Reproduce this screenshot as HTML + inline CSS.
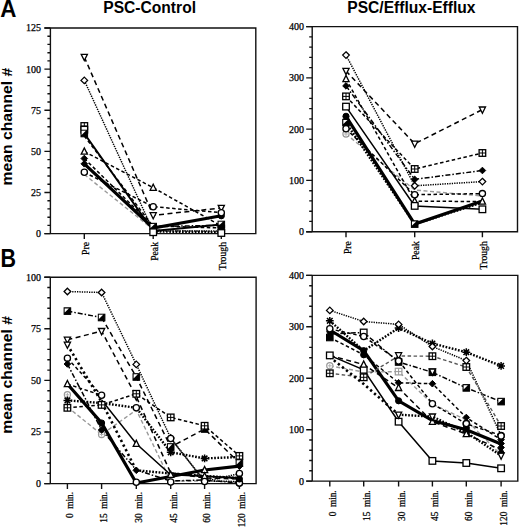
<!DOCTYPE html>
<html><head><meta charset="utf-8"><style>
html,body{margin:0;padding:0;background:#fff;width:520px;height:527px;overflow:hidden}
svg{display:block}
.yl{font-family:"Liberation Serif",serif;font-size:10px;text-anchor:end;fill:#000;stroke:#000;stroke-width:0.25px}
.xl{font-family:"Liberation Serif",serif;text-anchor:end;fill:#000;stroke:#000;stroke-width:0.25px;word-spacing:2.3px}
.t{font-family:"Liberation Sans",sans-serif;font-weight:bold;fill:#000}
.mo{fill:#fff;stroke:#000;stroke-width:1.3}
.mf{fill:#000;stroke:#000;stroke-width:1}
</style></head><body>
<svg width="520" height="527" viewBox="0 0 520 527">
<text class="t" transform="translate(0.3,17.1) scale(1.0,1.07)" font-size="22.4">A</text>
<text class="t" transform="translate(0.4,266.8) scale(0.95,1.16)" font-size="22.6">B</text>
<text class="t" x="103.3" y="13" font-size="15.6">PSC-Control</text>
<text class="t" x="347.3" y="12.6" font-size="15.6">PSC/Efflux-Efflux</text>
<text class="t" font-size="15.7" transform="translate(12.1,185.4) rotate(-90) scale(1,0.96)">mean channel #</text>
<text class="t" font-size="15.7" transform="translate(12.1,433.8) rotate(-90) scale(1,0.96)">mean channel #</text>
<path d="M44.4,28.0H255.8V233.6H44.4M50.4,28.0V233.6" stroke="#111" stroke-width="1.4" fill="none"/>
<text x="40.9" y="237.0" class="yl">0</text>
<text x="40.9" y="195.9" class="yl">25</text>
<text x="40.9" y="154.8" class="yl">50</text>
<text x="40.9" y="113.6" class="yl">75</text>
<text x="40.9" y="72.5" class="yl">100</text>
<text x="40.9" y="31.4" class="yl">125</text>
<path d="M44.4,233.6H50.4M47.4,225.4H50.4M47.4,217.2H50.4M47.4,208.9H50.4M47.4,200.7H50.4M44.4,192.5H50.4M47.4,184.3H50.4M47.4,176.0H50.4M47.4,167.8H50.4M47.4,159.6H50.4M44.4,151.4H50.4M47.4,143.1H50.4M47.4,134.9H50.4M47.4,126.7H50.4M47.4,118.5H50.4M44.4,110.2H50.4M47.4,102.0H50.4M47.4,93.8H50.4M47.4,85.6H50.4M47.4,77.3H50.4M44.4,69.1H50.4M47.4,60.9H50.4M47.4,52.7H50.4M47.4,44.4H50.4M47.4,36.2H50.4M44.4,28.0H50.4M84.3,233.6V239.1M153.2,233.6V239.1M221.3,233.6V239.1" stroke="#111" stroke-width="1.4" fill="none"/>
<text class="xl" font-size="9.7" transform="translate(88.9,242.0) rotate(-90)">Pre</text>
<text class="xl" font-size="9.7" transform="translate(157.8,242.0) rotate(-90)">Peak</text>
<text class="xl" font-size="9.7" transform="translate(225.9,242.0) rotate(-90)">Trough</text>
<path d="M84.3,174.5L153.2,229.5L221.3,232.0" fill="none" stroke="#999" stroke-width="1.4" stroke-dasharray="4 2.5"/>
<path d="M84.3,57.0L153.2,215.3L221.3,208.0" fill="none" stroke="#000" stroke-width="1.5" stroke-dasharray="5 3.5"/>
<path d="M84.3,80.4L153.2,231.0L221.3,231.0" fill="none" stroke="#000" stroke-width="1.5" stroke-dasharray="1.3 1.1"/>
<path d="M84.3,133.5L153.2,231.0L221.3,224.5" fill="none" stroke="#000" stroke-width="2.0"/>
<path d="M84.3,136.0L153.2,226.6" fill="none" stroke="#000" stroke-width="1.5" stroke-dasharray="3.5 2.5"/>
<path d="M153.2,226.6L221.3,225.3" fill="none" stroke="#000" stroke-width="1.5" stroke-dasharray="5 2 1.5 2"/>
<path d="M153.2,231.5L221.3,232.2" fill="none" stroke="#000" stroke-width="2.4" stroke-dasharray="1.7 1.5"/>
<path d="M84.3,151.5L153.2,187.7L221.3,226.0" fill="none" stroke="#000" stroke-width="1.5" stroke-dasharray="3.5 2.5"/>
<path d="M84.3,158.5L153.2,226.0L221.3,228.0" fill="none" stroke="#000" stroke-width="1.5" stroke-dasharray="3.5 2.5"/>
<path d="M84.3,163.8L153.2,228.0L221.3,215.8" fill="none" stroke="#000" stroke-width="3.2"/>
<path d="M84.3,172.3L153.2,206.7L221.3,212.7" fill="none" stroke="#000" stroke-width="1.5" stroke-dasharray="3.5 2.5"/>
<path d="M81.2,54.4H87.4L84.3,60.6Z" class="mo"/>
<path d="M150.1,212.7H156.3L153.2,218.9Z" class="mo"/>
<path d="M218.2,205.4H224.4L221.3,211.6Z" class="mo"/>
<path d="M84.3,77.1L87.6,80.4L84.3,83.7L81.0,80.4Z" class="mo"/>
<path d="M81.2,154.1H87.4L84.3,147.9Z" class="mo"/>
<path d="M150.1,190.3H156.3L153.2,184.1Z" class="mo"/>
<path d="M84.3,155.2L87.6,158.5L84.3,161.8L81.0,158.5Z" class="mf"/>
<path d="M84.3,160.5L87.6,163.8L84.3,167.1L81.0,163.8Z" class="mf"/>
<circle cx="221.3" cy="215.8" r="3.1" class="mf"/>
<circle cx="84.3" cy="172.3" r="3.1" class="mo"/>
<circle cx="153.2" cy="206.7" r="3.1" class="mo"/>
<circle cx="221.3" cy="212.7" r="3.1" class="mo"/>
<rect x="81.0" y="122.7" width="6.6" height="6.6" class="mo"/><path d="M84.3,122.7V129.3M81.0,126.0H87.6" stroke="#000" stroke-width="1"/>
<rect x="81.0" y="126.4" width="6.6" height="6.6" class="mo"/>
<rect x="81.0" y="130.2" width="6.6" height="6.6" class="mf" stroke-width="1.3"/><path d="M81.6,130.8H85.8L81.6,135.0Z" fill="#fff"/>
<rect x="149.9" y="223.3" width="6.6" height="6.6" class="mf" stroke-width="1.3"/><path d="M150.5,223.9H154.7L150.5,228.1Z" fill="#fff"/>
<rect x="149.9" y="228.9" width="6.6" height="6.6" class="mo"/>
<rect x="218.0" y="221.2" width="6.6" height="6.6" class="mf" stroke-width="1.3"/><path d="M218.6,221.8H222.8L218.6,226.0Z" fill="#fff"/>
<rect x="218.0" y="225.2" width="6.6" height="6.6" class="mf"/>
<rect x="218.0" y="229.7" width="6.6" height="6.6" class="mo"/>
<path d="M306.2,26.6H517.5V231.7H306.2M312.2,26.6V231.7" stroke="#111" stroke-width="1.4" fill="none"/>
<text x="304.0" y="235.1" class="yl">0</text>
<text x="304.0" y="183.8" class="yl">100</text>
<text x="304.0" y="132.5" class="yl">200</text>
<text x="304.0" y="81.3" class="yl">300</text>
<text x="304.0" y="30.0" class="yl">400</text>
<path d="M306.2,231.7H312.2M309.2,221.4H312.2M309.2,211.2H312.2M309.2,200.9H312.2M309.2,190.7H312.2M306.2,180.4H312.2M309.2,170.2H312.2M309.2,159.9H312.2M309.2,149.7H312.2M309.2,139.4H312.2M306.2,129.1H312.2M309.2,118.9H312.2M309.2,108.6H312.2M309.2,98.4H312.2M309.2,88.1H312.2M306.2,77.9H312.2M309.2,67.6H312.2M309.2,57.4H312.2M309.2,47.1H312.2M309.2,36.9H312.2M306.2,26.6H312.2M346.0,231.7V237.2M414.7,231.7V237.2M482.4,231.7V237.2" stroke="#111" stroke-width="1.4" fill="none"/>
<text class="xl" font-size="9.7" transform="translate(350.6,241.2) rotate(-90)">Pre</text>
<text class="xl" font-size="9.7" transform="translate(419.3,241.2) rotate(-90)">Peak</text>
<text class="xl" font-size="9.7" transform="translate(487.0,241.2) rotate(-90)">Trough</text>
<path d="M346.0,134.0L414.7,190.0L482.4,196.0" fill="none" stroke="#999" stroke-width="1.4" stroke-dasharray="4 2.5"/>
<path d="M346.0,55.1L414.7,185.8L482.4,181.6" fill="none" stroke="#000" stroke-width="1.5" stroke-dasharray="1.3 1.1"/>
<path d="M346.0,71.0L414.7,143.8L482.4,109.6" fill="none" stroke="#000" stroke-width="1.5" stroke-dasharray="5 3.5"/>
<path d="M346.0,79.1L414.7,201.2L482.4,201.5" fill="none" stroke="#000" stroke-width="1.5" stroke-dasharray="3.5 2.5"/>
<path d="M346.0,85.9L414.7,179.4L482.4,170.5" fill="none" stroke="#000" stroke-width="1.5" stroke-dasharray="5 2 1.5 2"/>
<path d="M346.0,96.4L414.7,169.0L482.4,153.0" fill="none" stroke="#000" stroke-width="1.5" stroke-dasharray="3.5 2.5"/>
<path d="M346.0,106.6L414.7,205.9L482.4,209.3" fill="none" stroke="#000" stroke-width="1.5"/>
<path d="M346.0,116.3L414.7,224.1L482.4,201.0" fill="none" stroke="#000" stroke-width="3.2"/>
<path d="M346.0,122.6L414.7,224.1L482.4,202.5" fill="none" stroke="#000" stroke-width="2.4" stroke-dasharray="1.7 1.5"/>
<path d="M346.0,128.8L414.7,194.7L482.4,193.6" fill="none" stroke="#000" stroke-width="1.5" stroke-dasharray="3.5 2.5"/>
<circle cx="346.0" cy="134.0" r="3.1" fill="#fff" stroke="#999" stroke-width="1.2"/><path d="M344.0,134.0H348.0M346.0,132.0V136.0" stroke="#aaa" stroke-width="0.9"/>
<path d="M346.0,51.8L349.3,55.1L346.0,58.4L342.7,55.1Z" class="mo"/>
<path d="M414.7,182.5L418.0,185.8L414.7,189.1L411.4,185.8Z" class="mo"/>
<path d="M482.4,178.3L485.7,181.6L482.4,184.9L479.1,181.6Z" class="mo"/>
<path d="M342.9,68.4H349.1L346.0,74.6Z" class="mo"/>
<path d="M411.6,141.2H417.8L414.7,147.4Z" class="mo"/>
<path d="M479.3,107.0H485.5L482.4,113.2Z" class="mo"/>
<path d="M342.9,81.7H349.1L346.0,75.5Z" class="mo"/>
<path d="M411.6,203.8H417.8L414.7,197.6Z" class="mo"/>
<path d="M479.3,204.1H485.5L482.4,197.9Z" class="mo"/>
<path d="M346.0,82.6L349.3,85.9L346.0,89.2L342.7,85.9Z" class="mf"/>
<path d="M414.7,176.1L418.0,179.4L414.7,182.7L411.4,179.4Z" class="mf"/>
<path d="M482.4,167.2L485.7,170.5L482.4,173.8L479.1,170.5Z" class="mf"/>
<rect x="342.7" y="93.1" width="6.6" height="6.6" class="mo"/><path d="M346.0,93.1V99.7M342.7,96.4H349.3" stroke="#000" stroke-width="1"/>
<rect x="411.4" y="165.7" width="6.6" height="6.6" class="mo"/><path d="M414.7,165.7V172.3M411.4,169.0H418.0" stroke="#000" stroke-width="1"/>
<rect x="479.1" y="149.7" width="6.6" height="6.6" class="mo"/><path d="M482.4,149.7V156.3M479.1,153.0H485.7" stroke="#000" stroke-width="1"/>
<rect x="342.7" y="103.3" width="6.6" height="6.6" class="mo"/>
<rect x="411.4" y="202.6" width="6.6" height="6.6" class="mo"/>
<rect x="479.1" y="206.0" width="6.6" height="6.6" class="mo"/>
<circle cx="346.0" cy="116.3" r="3.1" class="mf"/>
<rect x="342.7" y="119.3" width="6.6" height="6.6" class="mf" stroke-width="1.3"/><path d="M343.3,119.9H347.5L343.3,124.1Z" fill="#fff"/>
<rect x="411.4" y="220.8" width="6.6" height="6.6" class="mf" stroke-width="1.3"/><path d="M412.0,221.4H416.2L412.0,225.6Z" fill="#fff"/>
<circle cx="346.0" cy="128.8" r="3.1" class="mo"/>
<circle cx="414.7" cy="194.7" r="3.1" class="mo"/>
<circle cx="482.4" cy="193.6" r="3.1" class="mo"/>
<path d="M44.3,277.2H256.1V483.6H44.3M50.3,277.2V483.6" stroke="#111" stroke-width="1.4" fill="none"/>
<text x="40.9" y="487.0" class="yl">0</text>
<text x="40.9" y="435.4" class="yl">25</text>
<text x="40.9" y="383.8" class="yl">50</text>
<text x="40.9" y="332.2" class="yl">75</text>
<text x="40.9" y="280.6" class="yl">100</text>
<path d="M44.3,483.6H50.3M47.3,473.3H50.3M47.3,463.0H50.3M47.3,452.6H50.3M47.3,442.3H50.3M44.3,432.0H50.3M47.3,421.7H50.3M47.3,411.4H50.3M47.3,401.0H50.3M47.3,390.7H50.3M44.3,380.4H50.3M47.3,370.1H50.3M47.3,359.8H50.3M47.3,349.4H50.3M47.3,339.1H50.3M44.3,328.8H50.3M47.3,318.5H50.3M47.3,308.2H50.3M47.3,297.8H50.3M47.3,287.5H50.3M44.3,277.2H50.3M67.4,483.6V489.1M101.6,483.6V489.1M136.3,483.6V489.1M170.7,483.6V489.1M204.6,483.6V489.1M239.4,483.6V489.1" stroke="#111" stroke-width="1.4" fill="none"/>
<text class="xl" font-size="9.3" transform="translate(73.2,492.0) rotate(-90)">0 min.</text>
<text class="xl" font-size="9.3" transform="translate(107.4,492.0) rotate(-90)">15 min.</text>
<text class="xl" font-size="9.3" transform="translate(142.1,492.0) rotate(-90)">30 min.</text>
<text class="xl" font-size="9.3" transform="translate(176.5,492.0) rotate(-90)">45 min.</text>
<text class="xl" font-size="9.3" transform="translate(210.4,492.0) rotate(-90)">60 min.</text>
<text class="xl" font-size="9.3" transform="translate(245.2,492.0) rotate(-90)">120 min.</text>
<path d="M67.4,407.0L101.6,434.5L136.3,410.0L170.7,481.0L204.6,481.0L239.4,482.0" fill="none" stroke="#999" stroke-width="1.4" stroke-dasharray="4 2.5"/>
<path d="M67.4,291.5L101.6,292.5L136.3,364.4L170.7,438.0L204.6,481.0L239.4,481.5" fill="none" stroke="#000" stroke-width="1.5" stroke-dasharray="1.3 1.1"/>
<path d="M67.4,311.1L101.6,317.5" fill="none" stroke="#000" stroke-width="1.5" stroke-dasharray="5 2 1.5 2"/>
<path d="M101.6,317.5L136.3,377.0L170.7,447.0L204.6,429.0L239.4,463.0" fill="none" stroke="#000" stroke-width="1.5" stroke-dasharray="5 3.5"/>
<path d="M67.4,339.8L101.6,331.1L136.3,396.7L170.7,473.0L204.6,478.0L239.4,479.0" fill="none" stroke="#000" stroke-width="1.5" stroke-dasharray="5 3.5"/>
<path d="M67.4,344.8L101.6,402.0L136.3,470.3" fill="none" stroke="#000" stroke-width="2.6" stroke-dasharray="2.3 2.9"/>
<path d="M136.3,470.3L170.7,473.5L204.6,476.0L239.4,478.0" fill="none" stroke="#000" stroke-width="2.4" stroke-dasharray="1.7 1.5"/>
<path d="M67.4,358.3L101.6,395.3" fill="none" stroke="#000" stroke-width="1.5" stroke-dasharray="3.5 2.5"/>
<path d="M67.4,364.0L101.6,430.0L136.3,470.0L170.7,481.0L204.6,480.0L239.4,483.0" fill="none" stroke="#000" stroke-width="1.5" stroke-dasharray="5 2 1.5 2"/>
<path d="M67.4,384.0L101.6,423.0L136.3,483.0L170.7,476.5L204.6,470.0L239.4,466.2" fill="none" stroke="#000" stroke-width="3.2"/>
<path d="M67.4,400.4L101.6,403.0L136.3,407.8L170.7,452.3L204.6,458.4L239.4,457.0" fill="none" stroke="#000" stroke-width="2.4" stroke-dasharray="1.7 1.5"/>
<path d="M67.4,407.8L101.6,404.9L136.3,393.8L170.7,417.4L204.6,425.8L239.4,455.9" fill="none" stroke="#000" stroke-width="1.5" stroke-dasharray="3.5 2.5"/>
<path d="M101.6,400.0L136.3,443.8L170.7,474.7L204.6,476.3L239.4,477.7" fill="none" stroke="#000" stroke-width="1.5"/>
<path d="M67.4,384.0L101.6,395.3" fill="none" stroke="#000" stroke-width="1.5" stroke-dasharray="3.5 2.5"/>
<path d="M170.7,438.5L204.6,481.5L239.4,473.5" fill="none" stroke="#000" stroke-width="1.5" stroke-dasharray="1.3 1.1"/>
<path d="M170.7,473.0L204.6,476.0L239.4,479.0" fill="none" stroke="#000" stroke-width="1.5" stroke-dasharray="3.5 2.5"/>
<circle cx="67.4" cy="394.8" r="3.1" fill="#fff" stroke="#999" stroke-width="1.2"/><path d="M65.4,394.8H69.4M67.4,392.8V396.8" stroke="#aaa" stroke-width="0.9"/>
<circle cx="101.6" cy="434.5" r="3.1" fill="#fff" stroke="#999" stroke-width="1.2"/><path d="M99.6,434.5H103.6M101.6,432.5V436.5" stroke="#aaa" stroke-width="0.9"/>
<path d="M67.4,288.2L70.7,291.5L67.4,294.8L64.1,291.5Z" class="mo"/>
<path d="M101.6,289.2L104.9,292.5L101.6,295.8L98.3,292.5Z" class="mo"/>
<path d="M136.3,361.1L139.6,364.4L136.3,367.7L133.0,364.4Z" class="mo"/>
<path d="M170.7,434.7L174.0,438.0L170.7,441.3L167.4,438.0Z" class="mo"/>
<rect x="64.1" y="307.8" width="6.6" height="6.6" class="mf" stroke-width="1.3"/><path d="M64.7,308.4H68.9L64.7,312.6Z" fill="#fff"/>
<rect x="98.3" y="314.2" width="6.6" height="6.6" class="mf" stroke-width="1.3"/><path d="M98.9,314.8H103.1L98.9,319.0Z" fill="#fff"/>
<rect x="133.0" y="373.7" width="6.6" height="6.6" class="mf" stroke-width="1.3"/><path d="M133.6,374.3H137.8L133.6,378.5Z" fill="#fff"/>
<rect x="167.4" y="443.7" width="6.6" height="6.6" class="mf" stroke-width="1.3"/><path d="M168.0,444.3H172.2L168.0,448.5Z" fill="#fff"/>
<rect x="201.3" y="425.7" width="6.6" height="6.6" class="mf" stroke-width="1.3"/><path d="M201.9,426.3H206.1L201.9,430.5Z" fill="#fff"/>
<rect x="236.1" y="459.7" width="6.6" height="6.6" class="mf" stroke-width="1.3"/><path d="M236.7,460.3H240.9L236.7,464.5Z" fill="#fff"/>
<path d="M64.3,337.2H70.5L67.4,343.4Z" class="mo"/>
<path d="M98.5,328.5H104.7L101.6,334.7Z" class="mo"/>
<path d="M133.2,394.1H139.4L136.3,400.3Z" class="mo"/>
<path d="M64.3,342.2H70.5L67.4,348.4Z" class="mo"/>
<path d="M136.3,467.0L139.6,470.3L136.3,473.6L133.0,470.3Z" class="mf"/>
<circle cx="67.4" cy="358.3" r="3.1" class="mo"/>
<circle cx="101.6" cy="395.3" r="3.1" class="mo"/>
<path d="M67.4,360.7L70.7,364.0L67.4,367.3L64.1,364.0Z" class="mf"/>
<path d="M101.6,426.7L104.9,430.0L101.6,433.3L98.3,430.0Z" class="mf"/>
<circle cx="204.6" cy="480.0" r="3.1" class="mo"/>
<circle cx="239.4" cy="483.0" r="3.1" class="mo"/>
<path d="M64.3,386.6H70.5L67.4,380.4Z" class="mo"/>
<circle cx="101.6" cy="423.0" r="3.1" class="mf"/>
<path d="M201.5,472.6H207.7L204.6,466.4Z" class="mo"/>
<path d="M239.4,462.9L242.7,466.2L239.4,469.5L236.1,466.2Z" class="mf"/>
<path d="M63.5,400.4L71.3,400.4M64.6,397.6L70.2,403.2M67.4,396.5L67.4,404.3M70.2,397.6L64.6,403.2" stroke="#000" stroke-width="1.5"/><circle cx="67.4" cy="400.4" r="1.6" fill="#000"/>
<circle cx="136.3" cy="407.8" r="3.1" class="mo"/>
<path d="M166.8,452.3L174.6,452.3M167.9,449.5L173.5,455.1M170.7,448.4L170.7,456.2M173.5,449.5L167.9,455.1" stroke="#000" stroke-width="1.5"/><circle cx="170.7" cy="452.3" r="1.6" fill="#000"/>
<path d="M200.7,458.4L208.5,458.4M201.8,455.6L207.4,461.2M204.6,454.5L204.6,462.3M207.4,455.6L201.8,461.2" stroke="#000" stroke-width="1.5"/><circle cx="204.6" cy="458.4" r="1.6" fill="#000"/>
<rect x="64.1" y="404.5" width="6.6" height="6.6" class="mo"/><path d="M67.4,404.5V411.1M64.1,407.8H70.7" stroke="#000" stroke-width="1"/>
<rect x="98.3" y="401.6" width="6.6" height="6.6" class="mo"/><path d="M101.6,401.6V408.2M98.3,404.9H104.9" stroke="#000" stroke-width="1"/>
<rect x="133.0" y="390.5" width="6.6" height="6.6" class="mo"/><path d="M136.3,390.5V397.1M133.0,393.8H139.6" stroke="#000" stroke-width="1"/>
<rect x="167.4" y="414.1" width="6.6" height="6.6" class="mo"/><path d="M170.7,414.1V420.7M167.4,417.4H174.0" stroke="#000" stroke-width="1"/>
<rect x="201.3" y="422.5" width="6.6" height="6.6" class="mo"/><path d="M204.6,422.5V429.1M201.3,425.8H207.9" stroke="#000" stroke-width="1"/>
<rect x="236.1" y="452.6" width="6.6" height="6.6" class="mo"/><path d="M239.4,452.6V459.2M236.1,455.9H242.7" stroke="#000" stroke-width="1"/>
<path d="M133.2,446.4H139.4L136.3,440.2Z" class="mo"/>
<path d="M167.6,477.3H173.8L170.7,471.1Z" class="mo"/>
<path d="M201.5,478.9H207.7L204.6,472.7Z" class="mo"/>
<circle cx="170.7" cy="438.5" r="3.1" class="mo"/>
<circle cx="204.6" cy="481.5" r="3.1" class="mo"/>
<circle cx="239.4" cy="473.5" r="3.1" class="mo"/>
<circle cx="170.7" cy="482.0" r="3.1" class="mo"/>
<circle cx="239.4" cy="483.0" r="3.1" class="mo"/>
<circle cx="136.3" cy="482.3" r="3.1" class="mo"/>
<circle cx="239.4" cy="479.0" r="3.1" class="mf"/>
<path d="M306.2,275.4H517.8V481.1H306.2M312.2,275.4V481.1" stroke="#111" stroke-width="1.4" fill="none"/>
<text x="304.0" y="484.5" class="yl">0</text>
<text x="304.0" y="433.1" class="yl">100</text>
<text x="304.0" y="381.6" class="yl">200</text>
<text x="304.0" y="330.2" class="yl">300</text>
<text x="304.0" y="278.8" class="yl">400</text>
<path d="M306.2,481.1H312.2M309.2,470.8H312.2M309.2,460.5H312.2M309.2,450.2H312.2M309.2,440.0H312.2M306.2,429.7H312.2M309.2,419.4H312.2M309.2,409.1H312.2M309.2,398.8H312.2M309.2,388.5H312.2M306.2,378.2H312.2M309.2,368.0H312.2M309.2,357.7H312.2M309.2,347.4H312.2M309.2,337.1H312.2M306.2,326.8H312.2M309.2,316.5H312.2M309.2,306.3H312.2M309.2,296.0H312.2M309.2,285.7H312.2M306.2,275.4H312.2M329.8,481.1V486.6M363.7,481.1V486.6M398.6,481.1V486.6M432.4,481.1V486.6M466.3,481.1V486.6M501.1,481.1V486.6" stroke="#111" stroke-width="1.4" fill="none"/>
<text class="xl" font-size="9.3" transform="translate(335.8,490.3) rotate(-90)">0 min.</text>
<text class="xl" font-size="9.3" transform="translate(369.7,490.3) rotate(-90)">15 min.</text>
<text class="xl" font-size="9.3" transform="translate(404.6,490.3) rotate(-90)">30 min.</text>
<text class="xl" font-size="9.3" transform="translate(438.4,490.3) rotate(-90)">45 min.</text>
<text class="xl" font-size="9.3" transform="translate(472.3,490.3) rotate(-90)">60 min.</text>
<text class="xl" font-size="9.3" transform="translate(507.1,490.3) rotate(-90)">120 min.</text>
<path d="M329.8,365.8L363.7,372.0L398.6,371.6L432.4,404.0L466.3,420.0L501.1,455.0" fill="none" stroke="#999" stroke-width="1.4" stroke-dasharray="4 2.5"/>
<path d="M329.8,320.8L363.7,350.7L398.6,328.0L432.4,343.5L466.3,352.2L501.1,365.9" fill="none" stroke="#000" stroke-width="2.4" stroke-dasharray="1.7 1.5"/>
<path d="M329.8,310.4L363.7,321.5L398.6,324.4L432.4,346.5L466.3,360.6L501.1,435.5" fill="none" stroke="#000" stroke-width="1.5" stroke-dasharray="1.3 1.1"/>
<path d="M329.8,334.0L363.7,332.5L398.6,362.0L432.4,372.3L466.3,387.9L501.1,401.6" fill="none" stroke="#000" stroke-width="1.5" stroke-dasharray="5 2 1.5 2"/>
<path d="M329.8,328.8L363.7,336.5L398.6,360.7L432.4,403.7L466.3,423.8L501.1,435.5" fill="none" stroke="#000" stroke-width="1.5" stroke-dasharray="3.5 2.5"/>
<path d="M329.8,330.0L363.7,350.7L398.6,400.8L432.4,420.6L466.3,429.7L501.1,444.0" fill="none" stroke="#000" stroke-width="3.2"/>
<path d="M329.8,355.4L363.7,369.8L398.6,421.7L432.4,460.9L466.3,463.0L501.1,468.3" fill="none" stroke="#000" stroke-width="1.5"/>
<path d="M329.8,373.3L363.7,377.3L398.6,356.0L432.4,356.2L466.3,367.0L501.1,426.0" fill="none" stroke="#555" stroke-width="1.4" stroke-dasharray="3.5 2.5"/>
<path d="M329.8,337.5L363.7,354.8L398.6,382.8L432.4,383.7L466.3,417.5L501.1,439.7" fill="none" stroke="#000" stroke-width="1.5" stroke-dasharray="3.5 2.5"/>
<path d="M329.8,355.4L363.7,364.6L398.6,387.9L432.4,421.7L466.3,434.0L501.1,450.0" fill="none" stroke="#000" stroke-width="1.5" stroke-dasharray="5 3.5"/>
<path d="M329.8,357.0L363.7,384.0L398.6,414.7" fill="none" stroke="#000" stroke-width="2.6" stroke-dasharray="2.3 2.9"/>
<path d="M398.6,414.7L432.4,416.6L466.3,432.5L501.1,455.6" fill="none" stroke="#000" stroke-width="2.4" stroke-dasharray="1.7 1.5"/>
<circle cx="329.8" cy="365.8" r="3.1" fill="#fff" stroke="#999" stroke-width="1.2"/><path d="M327.8,365.8H331.8M329.8,363.8V367.8" stroke="#aaa" stroke-width="0.9"/>
<rect x="395.3" y="368.3" width="6.6" height="6.6" fill="#fff" stroke="#999" stroke-width="1.2"/><path d="M398.6,368.3V374.9M395.3,371.6H401.9" stroke="#999" stroke-width="1"/>
<path d="M325.9,320.8L333.7,320.8M327.0,318.0L332.6,323.6M329.8,316.9L329.8,324.7M332.6,318.0L327.0,323.6" stroke="#000" stroke-width="1.5"/><circle cx="329.8" cy="320.8" r="1.6" fill="#000"/>
<path d="M394.7,328.0L402.5,328.0M395.8,325.2L401.4,330.8M398.6,324.1L398.6,331.9M401.4,325.2L395.8,330.8" stroke="#000" stroke-width="1.5"/><circle cx="398.6" cy="328.0" r="1.6" fill="#000"/>
<path d="M428.5,343.5L436.3,343.5M429.6,340.7L435.2,346.3M432.4,339.6L432.4,347.4M435.2,340.7L429.6,346.3" stroke="#000" stroke-width="1.5"/><circle cx="432.4" cy="343.5" r="1.6" fill="#000"/>
<path d="M462.4,352.2L470.2,352.2M463.5,349.4L469.1,355.0M466.3,348.3L466.3,356.1M469.1,349.4L463.5,355.0" stroke="#000" stroke-width="1.5"/><circle cx="466.3" cy="352.2" r="1.6" fill="#000"/>
<path d="M497.2,365.9L505.0,365.9M498.3,363.1L503.9,368.7M501.1,362.0L501.1,369.8M503.9,363.1L498.3,368.7" stroke="#000" stroke-width="1.5"/><circle cx="501.1" cy="365.9" r="1.6" fill="#000"/>
<path d="M329.8,307.1L333.1,310.4L329.8,313.7L326.5,310.4Z" class="mo"/>
<path d="M363.7,318.2L367.0,321.5L363.7,324.8L360.4,321.5Z" class="mo"/>
<path d="M398.6,321.1L401.9,324.4L398.6,327.7L395.3,324.4Z" class="mo"/>
<path d="M432.4,343.2L435.7,346.5L432.4,349.8L429.1,346.5Z" class="mo"/>
<path d="M466.3,357.3L469.6,360.6L466.3,363.9L463.0,360.6Z" class="mo"/>
<path d="M326.7,331.4H332.9L329.8,337.6Z" class="mf"/>
<rect x="360.4" y="329.2" width="6.6" height="6.6" class="mo"/>
<rect x="395.3" y="358.7" width="6.6" height="6.6" class="mf"/>
<rect x="429.1" y="369.0" width="6.6" height="6.6" class="mf"/>
<rect x="463.0" y="384.6" width="6.6" height="6.6" class="mf" stroke-width="1.3"/><path d="M463.6,385.2H467.8L463.6,389.4Z" fill="#fff"/>
<rect x="497.8" y="398.3" width="6.6" height="6.6" class="mf" stroke-width="1.3"/><path d="M498.4,398.9H502.6L498.4,403.1Z" fill="#fff"/>
<circle cx="329.8" cy="328.8" r="3.1" class="mo"/>
<circle cx="363.7" cy="336.5" r="3.1" class="mo"/>
<circle cx="398.6" cy="360.7" r="3.1" class="mo"/>
<circle cx="432.4" cy="403.7" r="3.1" class="mo"/>
<circle cx="466.3" cy="423.8" r="3.1" class="mo"/>
<circle cx="501.1" cy="435.5" r="3.1" class="mo"/>
<circle cx="363.7" cy="350.7" r="3.1" class="mf"/>
<circle cx="398.6" cy="400.8" r="3.1" class="mf"/>
<rect x="326.5" y="352.1" width="6.6" height="6.6" class="mo"/>
<rect x="360.4" y="366.5" width="6.6" height="6.6" class="mo"/>
<rect x="395.3" y="418.4" width="6.6" height="6.6" class="mo"/>
<rect x="429.1" y="457.6" width="6.6" height="6.6" class="mo"/>
<rect x="463.0" y="459.7" width="6.6" height="6.6" class="mo"/>
<rect x="497.8" y="465.0" width="6.6" height="6.6" class="mo"/>
<rect x="326.5" y="370.0" width="6.6" height="6.6" class="mo"/><path d="M329.8,370.0V376.6M326.5,373.3H333.1" stroke="#000" stroke-width="1"/>
<rect x="360.4" y="374.0" width="6.6" height="6.6" class="mo"/><path d="M363.7,374.0V380.6M360.4,377.3H367.0" stroke="#000" stroke-width="1"/>
<rect x="429.1" y="352.9" width="6.6" height="6.6" class="mo"/><path d="M432.4,352.9V359.5M429.1,356.2H435.7" stroke="#000" stroke-width="1"/>
<rect x="463.0" y="363.7" width="6.6" height="6.6" class="mo"/><path d="M466.3,363.7V370.3M463.0,367.0H469.6" stroke="#000" stroke-width="1"/>
<rect x="497.8" y="422.7" width="6.6" height="6.6" class="mo"/><path d="M501.1,422.7V429.3M497.8,426.0H504.4" stroke="#000" stroke-width="1"/>
<rect x="326.5" y="334.2" width="6.6" height="6.6" class="mf"/>
<circle cx="363.7" cy="354.8" r="3.1" class="mf"/>
<path d="M398.6,379.5L401.9,382.8L398.6,386.1L395.3,382.8Z" class="mf"/>
<path d="M432.4,380.4L435.7,383.7L432.4,387.0L429.1,383.7Z" class="mf"/>
<path d="M466.3,414.2L469.6,417.5L466.3,420.8L463.0,417.5Z" class="mf"/>
<path d="M501.1,436.4L504.4,439.7L501.1,443.0L497.8,439.7Z" class="mf"/>
<path d="M360.6,367.2H366.8L363.7,361.0Z" class="mo"/>
<path d="M395.5,390.5H401.7L398.6,384.3Z" class="mo"/>
<path d="M429.3,424.3H435.5L432.4,418.1Z" class="mo"/>
<path d="M395.5,412.1H401.7L398.6,418.3Z" class="mo"/>
<path d="M429.3,414.0H435.5L432.4,420.2Z" class="mo"/>
<path d="M466.3,429.2L469.6,432.5L466.3,435.8L463.0,432.5Z" class="mf"/>
<path d="M498.0,453.0H504.2L501.1,459.2Z" class="mo"/>
<path d="M395.5,352.7H401.7L398.6,358.9Z" class="mo"/>
<circle cx="398.6" cy="361.0" r="3.1" class="mo"/>
<path d="M429.3,369.0H435.5L432.4,375.2Z" class="mo"/>
<circle cx="466.3" cy="428.0" r="3.1" class="mf"/>
<circle cx="466.3" cy="423.6" r="3.1" class="mo"/>
<path d="M463.2,436.6H469.4L466.3,430.4Z" class="mo"/>
<path d="M501.1,440.2L504.4,443.5L501.1,446.8L497.8,443.5Z" class="mf"/>
<path d="M501.1,444.2L504.4,447.5L501.1,450.8L497.8,447.5Z" class="mf"/>
<path d="M498.0,453.1H504.2L501.1,446.9Z" class="mf"/>
<circle cx="501.1" cy="436.0" r="3.1" class="mo"/>
</svg>
</body></html>
